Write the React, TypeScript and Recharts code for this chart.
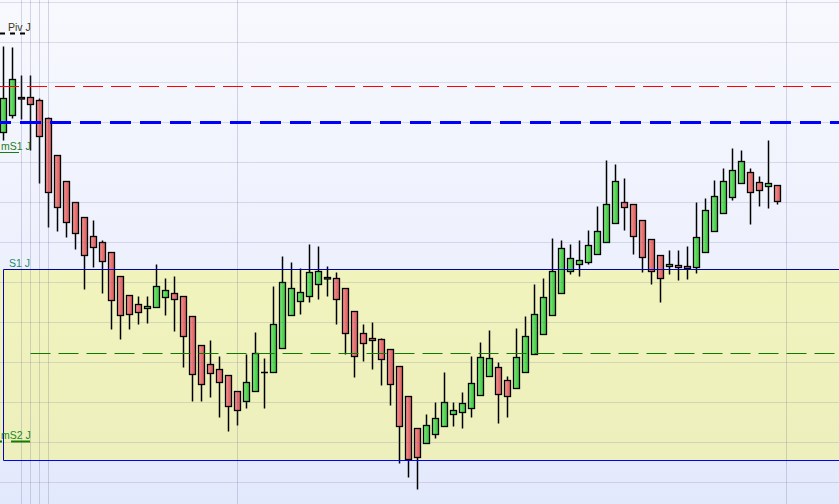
import { ComposedChart, Bar, XAxis, YAxis, ReferenceLine, ReferenceArea } from "recharts";

// OHLC, one candle per slot
const opens = [
  1350, 1367, 1385, 1385, 1382, 1364, 1327, 1301, 1280, 1265,
  1246, 1240, 1230, 1206, 1187, 1178, 1174, 1175, 1185, 1189,
  1186, 1166, 1137, 1118, 1113, 1107, 1091, 1081, 1091, 1110,
  1110, 1134, 1167, 1181, 1186, 1198, 1204, 1204, 1194, 1171,
  1149, 1144, 1143, 1133, 1116, 1086, 1054, 1039, 1048, 1056,
  1068, 1070, 1074, 1087, 1106, 1115, 1102, 1094, 1110, 1128,
  1148, 1167, 1189, 1211, 1218, 1220, 1228, 1240, 1259, 1280,
  1278, 1262, 1243, 1227, 1216, 1217, 1216, 1215, 1230, 1251,
  1269, 1285, 1299, 1310, 1300, 1296, 1297,
];
const highs = [
  1436, 1435, 1407, 1407, 1384, 1365, 1327, 1301, 1280, 1265,
  1262, 1242, 1230, 1206, 1187, 1186, 1186, 1218, 1204, 1206,
  1186, 1166, 1137, 1142, 1126, 1107, 1091, 1128, 1150, 1124,
  1196, 1226, 1220, 1214, 1238, 1236, 1216, 1210, 1194, 1171,
  1158, 1160, 1144, 1133, 1116, 1086, 1054, 1068, 1080, 1110,
  1080, 1090, 1126, 1140, 1152, 1120, 1106, 1154, 1166, 1198,
  1204, 1244, 1242, 1238, 1242, 1252, 1276, 1322, 1318, 1304,
  1278, 1262, 1243, 1227, 1232, 1232, 1236, 1280, 1284, 1302,
  1314, 1334, 1332, 1314, 1306, 1342, 1297,
];
const lows = [
  1342, 1364, 1363, 1332, 1299, 1255, 1251, 1245, 1233, 1193,
  1215, 1189, 1153, 1143, 1153, 1158, 1159, 1175, 1167, 1151,
  1115, 1081, 1081, 1085, 1065, 1051, 1057, 1074, 1091, 1074,
  1110, 1134, 1167, 1168, 1180, 1183, 1186, 1158, 1128, 1105,
  1121, 1113, 1097, 1077, 1019, 1005, 993, 1039, 1044, 1056,
  1056, 1054, 1065, 1087, 1106, 1059, 1065, 1094, 1110, 1128,
  1148, 1167, 1189, 1208, 1206, 1218, 1228, 1240, 1259, 1252,
  1228, 1210, 1198, 1180, 1208, 1202, 1203, 1209, 1230, 1251,
  1269, 1282, 1299, 1258, 1276, 1274, 1278,
];
const closes = [
  1384, 1403, 1384, 1378, 1346, 1290, 1275, 1260, 1249, 1227,
  1235, 1221, 1182, 1167, 1168, 1170, 1176, 1196, 1192, 1183,
  1146, 1108, 1098, 1109, 1100, 1076, 1072, 1100, 1129, 1110,
  1158, 1200, 1194, 1190, 1210, 1211, 1205, 1183, 1149, 1126,
  1139, 1142, 1123, 1098, 1056, 1023, 1025, 1057, 1064, 1080,
  1072, 1079, 1099, 1125, 1124, 1088, 1086, 1125, 1146, 1168,
  1185, 1211, 1234, 1224, 1222, 1237, 1251, 1278, 1301, 1275,
  1246, 1225, 1211, 1204, 1218, 1215, 1214, 1245, 1272, 1286,
  1301, 1312, 1321, 1290, 1292, 1299, 1281,
];

const SLOTS = 94; // empty slots on the right
const gridLevels = [1000, 1040, 1080, 1120, 1160, 1200, 1240, 1280, 1320, 1360, 1400, 1440, 1480];
const sessionBreaks = [2, 3, 4, 5, 26, 87];

const pivLevel = 1449;
const r1Level = 1396;
const blueLevel = 1360;
const mS1Level = 1330;
const s1Level = 1213;
const midLevel = 1129;
const mS2Level = 1041;
const s2Level = 1022;

const data = Array.from({ length: SLOTS }, (_, i) =>
  i < opens.length
    ? { i, open: opens[i], high: highs[i], low: lows[i], close: closes[i], range: [lows[i], highs[i]] }
    : { i }
);

function Candle(props: any) {
  const { x, y, width, height, payload, index } = props;
  if (!payload || payload.open == null) return null;
  const { open, close, high, low } = payload;
  const top = Math.min(y, y + height);
  const h = Math.abs(height);
  const px = (v: number) => top + ((high - v) / (high - low)) * h;
  const cx = x + width / 2;
  const up = close >= open;
  const bTop = px(Math.max(open, close));
  const bBot = px(Math.min(open, close));
  const gid = `cg${index}`;
  if (Math.abs(close - open) < 0.5) {
    return (
      <g>
        <line x1={cx} x2={cx} y1={top} y2={top + h} stroke="#000" strokeWidth={1.5} />
        <line x1={cx - 3.5} x2={cx + 3.5} y1={bTop} y2={bTop} stroke="#000" strokeWidth={1.5} />
      </g>
    );
  }
  return (
    <g>
      <defs>
        <linearGradient id={gid} x1="0" y1="0" x2="1" y2="0">
          <stop offset="0%" stopColor={up ? "#8ef08e" : "#f5a0a0"} />
          <stop offset="45%" stopColor={up ? "#5ad85a" : "#ea7676"} />
          <stop offset="100%" stopColor={up ? "#3ec43e" : "#d85e5e"} />
        </linearGradient>
      </defs>
      <line x1={cx} x2={cx} y1={top} y2={top + h} stroke="#000" strokeWidth={1.5} />
      <rect x={cx - 3} y={bTop} width={6} height={Math.max(bBot - bTop, 1.5)} fill={`url(#${gid})`} stroke="#000" strokeWidth={1.3} />
    </g>
  );
}

function LevelTag(props: any) {
  const { viewBox, text, color, tx, line } = props;
  if (!viewBox) return null;
  const x0 = viewBox.x;
  const y0 = viewBox.y;
  return (
    <g>
      {line && (
        <line
          x1={x0 + line.from}
          x2={x0 + line.to}
          y1={y0}
          y2={y0}
          stroke={line.color}
          strokeWidth={line.width}
          strokeDasharray={line.dash}
        />
      )}
      <text x={x0 + tx} y={y0 - 3} fill={color} fontSize={10.5} fontFamily="Liberation Sans, Arial, sans-serif">
        {text}
      </text>
    </g>
  );
}

export default function App() {
  return (
    <div
      style={{
        position: "fixed",
        left: 0,
        top: 0,
        width: 839,
        height: 504,
        overflow: "hidden",
        background: "linear-gradient(#f8f9fe, #e3e9fc)",
      }}
    >
      <div style={{ position: "absolute", left: -1, top: 0 }}>
        <ComposedChart width={846} height={504} data={data} margin={{ top: 0, right: 0, bottom: 0, left: 0 }} barCategoryGap={0}>
          <XAxis dataKey="i" type="category" hide />
          <YAxis type="number" domain={[978.5, 1482.5]} hide allowDataOverflow />
          <ReferenceArea x1={0} x2={SLOTS - 1} y1={s2Level} y2={s1Level} fill="#f8f964" fillOpacity={0.42} stroke="none" />
          {gridLevels.map((g) => (
            <ReferenceLine key={`h${g}`} y={g} stroke="rgba(90,90,150,0.18)" strokeWidth={1} />
          ))}
          {sessionBreaks.map((b) => (
            <ReferenceLine key={`v${b}`} x={b} stroke="rgba(80,80,130,0.22)" strokeWidth={1} />
          ))}
          <ReferenceLine segment={[{ x: 0, y: s2Level }, { x: 0, y: s1Level }]} stroke="#0000cc" strokeWidth={1} />
          <ReferenceLine segment={[{ x: 0, y: s1Level }, { x: SLOTS - 1, y: s1Level }]} stroke="#0000b0" strokeWidth={1} />
          <ReferenceLine segment={[{ x: 0, y: s2Level }, { x: SLOTS - 1, y: s2Level }]} stroke="#0000ff" strokeWidth={1} />
          <Bar dataKey="range" shape={<Candle />} isAnimationActive={false} />
          <ReferenceLine y={r1Level} stroke="#ff0000" strokeWidth={1} strokeDasharray="20 8" />
          <ReferenceLine y={blueLevel} stroke="#0000ff" strokeWidth={3} strokeDasharray="21 9" strokeDashoffset={9} />
          <ReferenceLine
            segment={[{ x: 3, y: midLevel }, { x: SLOTS - 1, y: midLevel }]}
            stroke="#0e7a00"
            strokeWidth={1}
            strokeDasharray="20 8"
          />
          <ReferenceLine
            y={pivLevel}
            stroke="none"
            label={<LevelTag text="Piv J" color="#3a3a1a" tx={9} line={{ from: 1, to: 27, color: "#000", width: 2, dash: "5 5" }} />}
          />
          <ReferenceLine
            y={mS1Level}
            stroke="none"
            label={<LevelTag text="mS1 J" color="#247a24" tx={2} line={{ from: 1, to: 20, color: "#1a7a1a", width: 1 }} />}
          />
          <ReferenceLine y={s1Level} stroke="none" label={<LevelTag text="S1 J" color="#1f8a6a" tx={10} />} />
          <ReferenceLine
            y={mS2Level}
            stroke="none"
            label={<LevelTag text="mS2 J" color="#1a8a1a" tx={2} line={{ from: 1, to: 31, color: "#1a7a00", width: 2, dash: "2 9 20 0" }} />}
          />
        </ComposedChart>
      </div>
    </div>
  );
}
